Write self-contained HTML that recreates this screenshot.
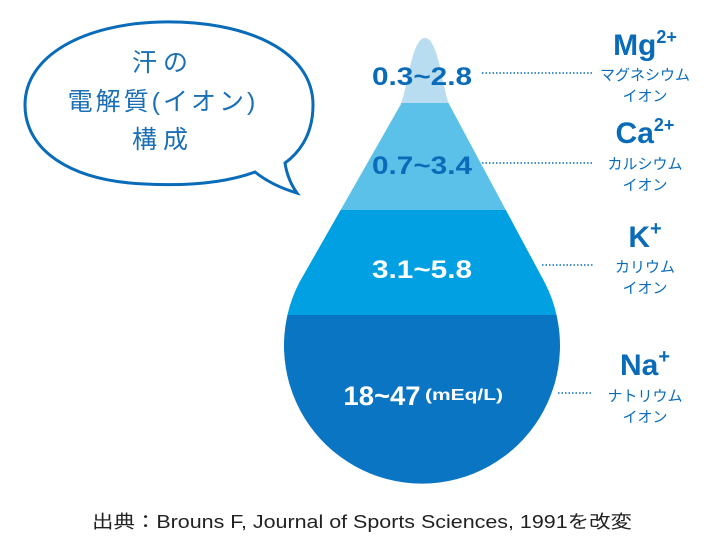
<!DOCTYPE html>
<html><head><meta charset="utf-8"><style>
html,body{margin:0;padding:0;background:#fff;}
svg{display:block}
</style></head><body>
<svg width="720" height="540" viewBox="0 0 720 540" xmlns="http://www.w3.org/2000/svg">
<defs>
<clipPath id="drop"><path d="M425,38 C438,38 442,85 449,104 L545,283 A138 138 0 1 1 299,283 L401,104 C408,85 412,38 425,38 Z"/></clipPath>
</defs>
<g clip-path="url(#drop)">
<rect x="250" y="30" width="350" height="73" fill="#b9ddf0"/>
<rect x="250" y="103" width="350" height="107" fill="#5bc1e9"/>
<rect x="250" y="210" width="350" height="105" fill="#00a0e2"/>
<rect x="250" y="315" width="350" height="200" fill="#0a75c2"/>
</g>
<!-- bubble -->
<path d="M160,22 C245,20 313,50 313,105 C313,138 296,155 285,163 C287,176 292,186 297,193 C280,188 265,180 255,172 C225,183 185,186 145,184 C70,181 25,150 25,105 C25,55 85,24 160,22 Z" fill="none" stroke="#0a6cb8" stroke-width="3"/>
<g font-family="'Liberation Sans','Noto Sans CJK JP',sans-serif" fill="#1a6fb5" font-size="25" text-anchor="middle">
<text x="163" y="71" letter-spacing="6">汗の</text>
<text x="163" y="110" letter-spacing="3">電解質(イオン)</text>
<text x="163" y="148" letter-spacing="6">構成</text>
</g>
<!-- values -->
<g font-family="'Liberation Sans Narrow','Liberation Sans',sans-serif" font-weight="bold" font-size="25" text-anchor="middle">
<text x="422" y="85" fill="#0a6cb8" textLength="100" lengthAdjust="spacingAndGlyphs">0.3~2.8</text>
<text x="422" y="174" fill="#0a6cb8" textLength="100" lengthAdjust="spacingAndGlyphs">0.7~3.4</text>
<text x="422" y="278" fill="#fff" textLength="100" lengthAdjust="spacingAndGlyphs">3.1~5.8</text>
<text x="382" y="405" fill="#fff" font-size="27" textLength="77" lengthAdjust="spacingAndGlyphs">18~47</text>
<text x="464" y="400" fill="#fff" font-size="16" textLength="78" lengthAdjust="spacingAndGlyphs">(mEq/L)</text>
</g>
<g stroke="#0a6cb8" stroke-width="1.5" stroke-dasharray="1.5 2">
<line x1="482" y1="73" x2="592" y2="73"/>
<line x1="482" y1="163" x2="592" y2="163"/>
<line x1="542" y1="265" x2="593" y2="265"/>
<line x1="558" y1="393" x2="593" y2="393"/>
</g>
<g font-family="'Liberation Sans','Noto Sans CJK JP',sans-serif" fill="#0a6cb8" text-anchor="middle">
<text x="645" y="55" font-size="30" font-weight="bold">Mg<tspan font-size="18" dy="-12">2+</tspan></text>
<text x="645" y="80" font-size="15">マグネシウム</text>
<text x="645" y="101" font-size="15">イオン</text>
<text x="645" y="143" font-size="30" font-weight="bold">Ca<tspan font-size="18" dy="-12">2+</tspan></text>
<text x="645" y="169" font-size="15">カルシウム</text>
<text x="645" y="190" font-size="15">イオン</text>
<text x="645" y="247" font-size="30" font-weight="bold">K<tspan font-size="20" dy="-12">+</tspan></text>
<text x="645" y="272" font-size="15">カリウム</text>
<text x="645" y="293" font-size="15">イオン</text>
<text x="645" y="375" font-size="30" font-weight="bold">Na<tspan font-size="20" dy="-12">+</tspan></text>
<text x="645" y="401" font-size="15">ナトリウム</text>
<text x="645" y="422" font-size="15">イオン</text>
</g>
<text x="362" y="528" font-family="'Liberation Sans','Noto Sans CJK JP',sans-serif" font-size="18" fill="#222" text-anchor="middle" textLength="540" lengthAdjust="spacingAndGlyphs">出典：Brouns F, Journal of Sports Sciences, 1991を改変</text>
</svg>
</body></html>
